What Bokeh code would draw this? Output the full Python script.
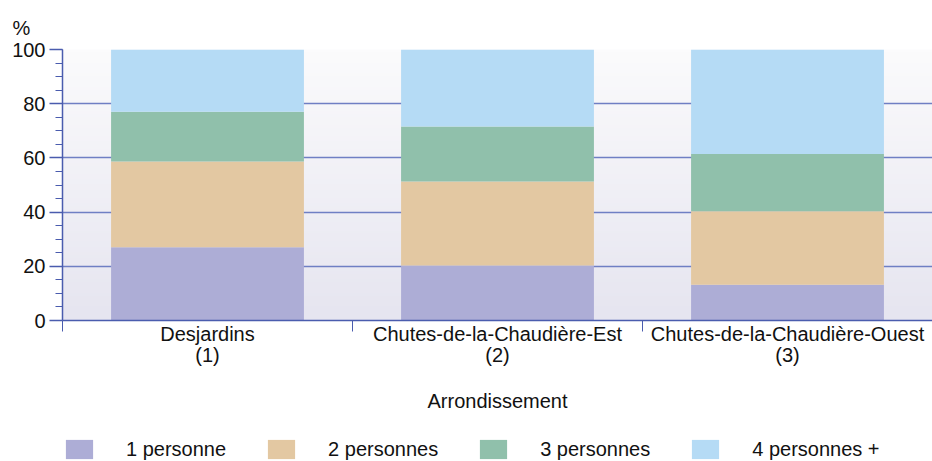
import numpy as np
from bokeh.plotting import figure
from bokeh.layouts import column
from bokeh.models import (ColumnDataSource, Range1d, FixedTicker, SingleIntervalTicker,
                          Legend, LegendItem, Title)
from bokeh.embed import file_html
from bokeh.resources import INLINE

# ---- data ----
categories = ["Desjardins\n(1)", "Chutes-de-la-Chaudière-Est\n(2)", "Chutes-de-la-Chaudière-Ouest\n(3)"]
series_names = ["1 personne", "2 personnes", "3 personnes", "4 personnes +"]
p1 = [27.0, 20.3, 13.2]
p2 = [31.7, 31.0, 27.1]
p3 = [18.3, 20.3, 21.1]
p4 = [23.0, 28.4, 38.6]
colors = ["#adadd6", "#e3c8a2", "#90c0ab", "#b5dbf5"]
y_ticks_interval = 20

FONT = "Liberation Sans"
FS = "20px"
n = len(categories)
xs = [i + 0.5 for i in range(n)]

src = ColumnDataSource(dict(x=xs, p1=p1, p2=p2, p3=p3, p4=p4))

p = figure(width=932, height=415, output_backend="svg", toolbar_location=None,
           x_range=Range1d(0, n), y_range=Range1d(0, 100),
           min_border_left=62, min_border_top=49, min_border_right=0, min_border_bottom=95)
p.outline_line_color = None
p.background_fill_color = None
p.border_fill_color = "white"

# gradient background
grad = np.zeros((100, 1), dtype=np.uint32)
view = grad.view(dtype=np.uint8).reshape((100, 1, 4))
top = np.array([251, 251, 252]); bot = np.array([230, 229, 240])
for i in range(100):
    t = i / 99.0
    c = bot * (1 - t) + top * t
    view[i, 0, 0:3] = c.astype(np.uint8)
    view[i, 0, 3] = 255
p.image_rgba(image=[grad], x=0, y=0, dw=n, dh=100, level="image")

p.ygrid.grid_line_color = "#6f7fc4"
p.ygrid.grid_line_width = 1.5
p.ygrid.level = "image"
p.xgrid.visible = False

renderers = p.vbar_stack(["p1", "p2", "p3", "p4"], x="x", width=0.665, color=colors,
                         source=src, line_color=None)

# axes
xa = p.xaxis[0]
xa.ticker = FixedTicker(ticks=xs, minor_ticks=list(range(n + 1)))
xa.major_label_overrides = {x: c for x, c in zip(xs, categories)}
xa.major_tick_out = 0
xa.major_tick_in = 0
xa.minor_tick_out = 11
xa.minor_tick_in = 0
xa.axis_line_color = "#4a5cae"
xa.axis_line_width = 1.5
xa.minor_tick_line_color = "#4a5cae"
xa.major_label_text_font = FONT
xa.major_label_text_font_size = FS
xa.major_label_text_color = "#111111"
xa.major_label_text_line_height = 0.96
xa.major_label_standoff = -9
xa.axis_label = "Arrondissement"
xa.axis_label_text_font = FONT
xa.axis_label_text_font_size = FS
xa.axis_label_text_font_style = "normal"
xa.axis_label_text_color = "#111111"
xa.axis_label_standoff = 21

ya = p.yaxis[0]
ya.ticker = SingleIntervalTicker(interval=y_ticks_interval, num_minor_ticks=4)
ya.major_tick_out = 13
ya.major_tick_in = 0
ya.minor_tick_out = 7
ya.minor_tick_in = 0
ya.axis_line_color = "#4a5cae"
ya.axis_line_width = 1.5
ya.major_tick_line_color = "#4a5cae"
ya.minor_tick_line_color = "#4a5cae"
ya.major_tick_line_width = 1.5
ya.major_label_text_font = FONT
ya.major_label_text_font_size = FS
ya.major_label_text_color = "#111111"
ya.major_label_standoff = 4

p.add_layout(Title(text="%", align="left", offset=-50, standoff=17, vertical_align="top",
                   text_font=FONT, text_font_size=FS, text_font_style="normal",
                   text_color="#111111"), "above")

# ---- legend strip (separate small figure below the chart) ----
lg = figure(width=932, height=46, output_backend="svg", toolbar_location=None,
            x_range=Range1d(0, 1), y_range=Range1d(0, 1),
            x_axis_location=None, y_axis_location=None,
            min_border_left=62, min_border_top=22, min_border_right=0, min_border_bottom=0)
lg.outline_line_color = None
lg.xgrid.visible = False
lg.ygrid.visible = False
lg.background_fill_color = None
lg.border_fill_color = "white"

# zero-height proxy bars, only used to carry the legend swatches
dummy = [lg.vbar(x=[0.5], top=[0], bottom=[0], width=0.5, color=c, line_color=None)
         for c in colors]

legend = Legend(items=[LegendItem(label=s, renderers=[r]) for s, r in zip(series_names, dummy)],
                orientation="horizontal", location="top_left",
                glyph_width=34, glyph_height=24, label_height=24, label_standoff=30,
                spacing=38, margin=0, padding=0,
                label_text_font=FONT, label_text_font_size=FS, label_text_color="#111111",
                border_line_color=None, background_fill_alpha=0)
lg.add_layout(legend, "center")

layout = column(p, lg, spacing=0)

open("out.html", "w").write(file_html(layout, INLINE))
